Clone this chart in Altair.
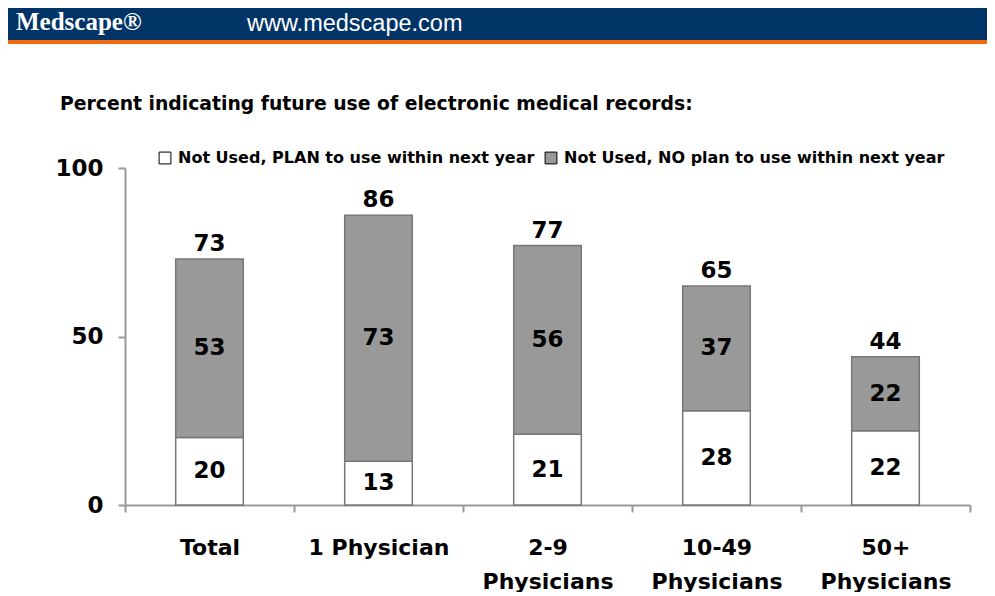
import altair as alt
import pandas as pd

categories = ["Total", "1 Physician", "2-9 Physicians", "10-49 Physicians", "50+ Physicians"]
series_names = ["Not Used, PLAN to use within next year", "Not Used, NO plan to use within next year"]
plan_vals = [20, 13, 21, 28, 22]
noplan_vals = [53, 73, 56, 37, 22]
totals = [73, 86, 77, 65, 44]
y_ticks = [0, 50, 100]
title_text = "Percent indicating future use of electronic medical records:"
brand_text = "Medscape\u00ae"
url_text = "www.medscape.com"

FONT = "DejaVu Sans"

rows = []
for c, p, n in zip(categories, plan_vals, noplan_vals):
    rows.append({"category": c, "series": series_names[0], "value": p, "ord": 0})
    rows.append({"category": c, "series": series_names[1], "value": n, "ord": 1})
df = pd.DataFrame(rows)
tot_df = pd.DataFrame({"category": categories, "total": totals})
one = pd.DataFrame({"a": [0]})

x_enc = alt.X("category:N", sort=categories, title=None,
              scale=alt.Scale(paddingInner=0, paddingOuter=0),
              axis=alt.Axis(labelAngle=0, tickBand="extent",
                            labelFont=FONT, labelFontWeight="bold",
                            labelFontSize=22, labelColor="black",
                            labelPadding=25, labelLineHeight=34,
                            labelExpr="indexof(datum.label, ' Physicians') > 0 ? split(datum.label, ' ') : datum.label",
                            tickSize=7, tickColor="#999999", tickWidth=2,
                            domainColor="#999999", domainWidth=2))

bars = alt.Chart(df).mark_bar(stroke="#777777", strokeWidth=1.5,
                              width=alt.RelativeBandSize(0.4)).encode(
    x=x_enc,
    y=alt.Y("value:Q", stack="zero", title=None,
            scale=alt.Scale(domain=[0, 100], nice=False),
            axis=alt.Axis(values=y_ticks, grid=False,
                          labelFont=FONT, labelFontWeight="bold",
                          labelFontSize=23, labelColor="black", labelPadding=15,
                          tickSize=7, tickColor="#999999", tickWidth=2,
                          domainColor="#999999", domainWidth=2)),
    color=alt.Color("series:N", scale=alt.Scale(domain=series_names, range=["white", "#999999"]),
                    legend=alt.Legend(title=None, orient="none", legendX=32, legendY=-18,
                                      direction="horizontal", symbolType="square",
                                      symbolSize=140, symbolStrokeColor="black",
                                      symbolStrokeWidth=1, labelFont=FONT,
                                      labelFontWeight="bold", labelFontSize=16,
                                      labelColor="black", labelLimit=0, labelOffset=5,
                                      columnPadding=8, symbolOffset=0)),
    order=alt.Order("ord:Q"),
)

inner = alt.Chart(df).transform_stack(
    stack="value", groupby=["category"], as_=["y0", "y1"], sort=[alt.SortField("ord")]
).transform_calculate(mid="(datum.y0 + datum.y1) / 2").mark_text(
    font=FONT, fontWeight="bold", fontSize=23, color="black", baseline="middle"
).encode(
    x=alt.X("category:N", sort=categories),
    y=alt.Y("mid:Q"),
    text="value:Q",
)

tops = alt.Chart(tot_df).mark_text(
    font=FONT, fontWeight="bold", fontSize=23, color="black",
    baseline="alphabetic", dy=-8
).encode(
    x=alt.X("category:N", sort=categories),
    y=alt.Y("total:Q"),
    text="total:Q",
)

header = alt.Chart(one).mark_rect(color="#003366").encode(
    x=alt.value(-118), x2=alt.value(870), y=alt.value(-160), y2=alt.value(-128))
orange = alt.Chart(one).mark_rect(color="#f26a10").encode(
    x=alt.value(-118), x2=alt.value(870), y=alt.value(-128), y2=alt.value(-124))
brand = alt.Chart(one).mark_text(
    text=brand_text, font="Liberation Serif", fontSize=25, fontWeight="bold", color="white",
    align="left", baseline="alphabetic").encode(x=alt.value(-109), y=alt.value(-138))
url = alt.Chart(one).mark_text(
    text=url_text, font="Liberation Sans", fontSize=23.5, color="white",
    align="left", baseline="alphabetic").encode(x=alt.value(122), y=alt.value(-137))
title = alt.Chart(one).mark_text(
    text=title_text, font=FONT, fontWeight="bold", fontSize=18.8, color="black",
    align="left", baseline="alphabetic").encode(x=alt.value(-65), y=alt.value(-58))

chart = alt.layer(header, orange, brand, url, title, bars, inner, tops).properties(
    width=845, height=337,
    padding={"left": 117, "top": 160, "right": 17, "bottom": 87},
    autosize="none",
).configure_view(stroke=None)

chart.save("out.html", embed_options={"renderer": "svg", "actions": False})
